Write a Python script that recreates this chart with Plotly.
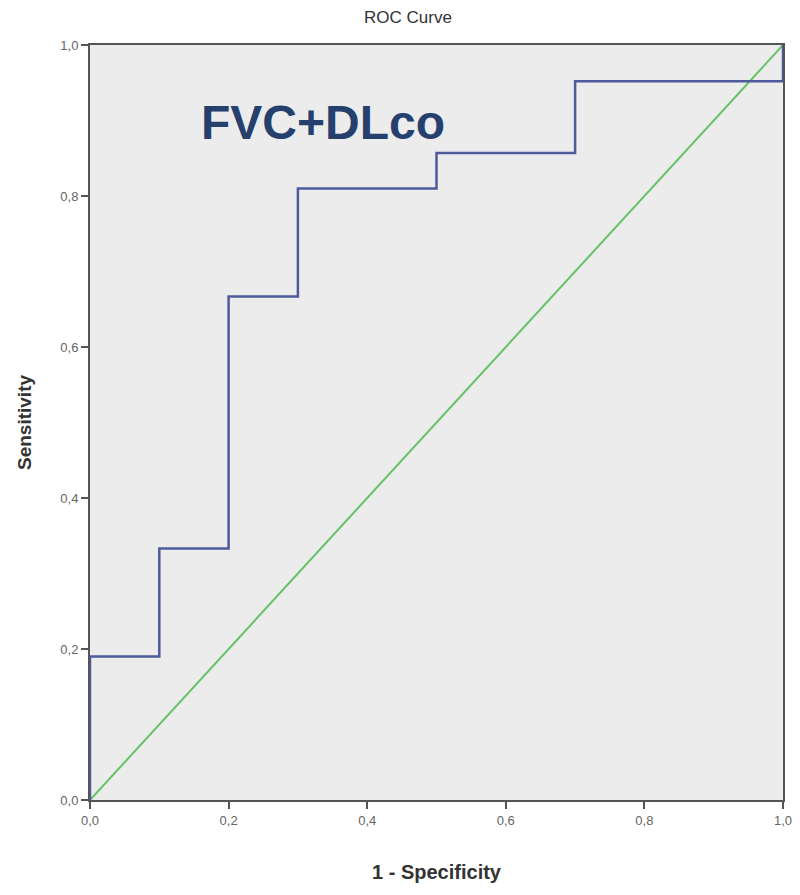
import plotly.graph_objects as go

# ROC step curve (1 - specificity, sensitivity)
fpr = [0.0, 0.0, 0.1, 0.1, 0.2, 0.2, 0.3, 0.3, 0.5, 0.5, 0.7, 0.7, 1.0, 1.0]
tpr = [0.0, 0.190, 0.190, 0.333, 0.333, 0.667, 0.667, 0.810, 0.810, 0.857, 0.857, 0.952, 0.952, 1.0]

# reference line
ref_x = [0.0, 1.0]
ref_y = [0.0, 1.0]

tick_vals = [0.0, 0.2, 0.4, 0.6, 0.8, 1.0]

fig = go.Figure()

fig.add_trace(go.Scatter(
    x=ref_x, y=ref_y, mode='lines',
    line=dict(color='#66c266', width=2),
    hoverinfo='skip', showlegend=False
))

fig.add_trace(go.Scatter(
    x=fpr, y=tpr, mode='lines',
    line=dict(color='#4d5b9c', width=2.5),
    showlegend=False
))

fig.add_annotation(
    x=0.336, y=0.897, xref='x', yref='y',
    text='<b>FVC+DLco</b>', showarrow=False,
    font=dict(family='Liberation Sans, Arial', size=48, color='#26406e')
)

axis_common = dict(
    range=[0, 1],
    tickvals=tick_vals,
    tickformat='.1f',
    ticks='outside',
    ticklen=7,
    tickwidth=2,
    tickcolor='#555555',
    showline=True,
    linecolor='#555555',
    linewidth=2,
    mirror=True,
    showgrid=False,
    zeroline=False,
    automargin=False,
    tickfont=dict(family='Liberation Sans, Arial', size=13, color='#666666'),
)

fig.update_layout(
    width=800, height=895,
    margin=dict(l=82, r=25, t=37, b=103),
    separators=',.',
    paper_bgcolor='white',
    plot_bgcolor='#ececec',
    title=dict(text='ROC Curve', x=0.5, xanchor='center', y=0.997, yanchor='top',
               font=dict(family='Liberation Sans, Arial', size=17, color='#333333')),
    xaxis=dict(axis_common,
               title=dict(text='<b>1 - Specificity</b>', standoff=38,
                          font=dict(family='Liberation Sans Narrow, Liberation Sans, Arial',
                                    size=20, color='#333333'))),
    yaxis=dict(axis_common,
               title=dict(text='<b>Sensitivity</b>', standoff=24,
                          font=dict(family='Liberation Sans Narrow, Liberation Sans, Arial',
                                    size=19, color='#333333'))),
)

fig.write_html("out.html")
